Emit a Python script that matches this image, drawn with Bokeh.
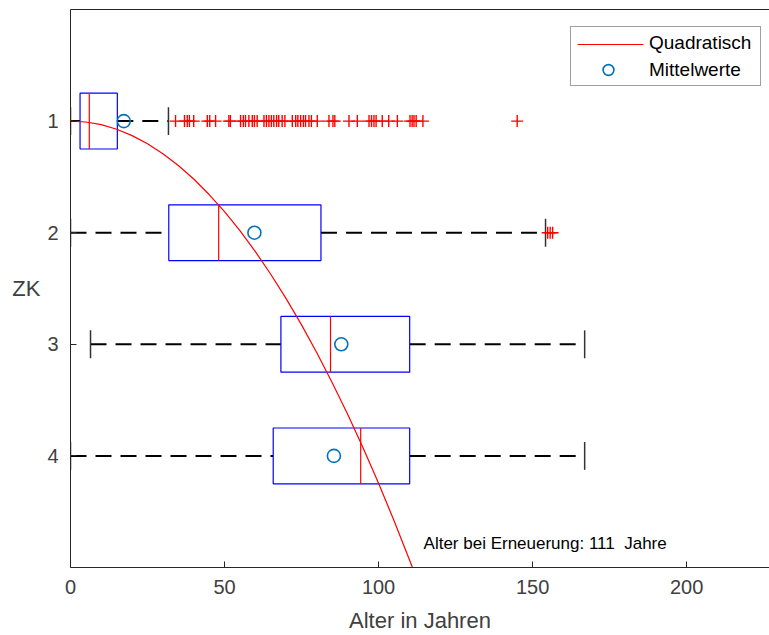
from bokeh.plotting import figure
from bokeh.models import Range1d, Label, LinearAxis, FixedTicker, Legend, LegendItem, ColumnDataSource, BoxAnnotation
from bokeh.embed import file_html
from bokeh.resources import INLINE

# ---- data ----
rows = [1, 2, 3, 4]
q1 = [3.1, 31.9, 68.3, 65.8]
medians = [6.1, 48.1, 84.4, 94.2]
q3 = [15.2, 81.3, 110.1, 110.1]
whisk_lo = [0.0, 0.0, 6.5, 0.0]
whisk_hi = [31.8, 154.2, 166.9, 166.9]
means = [17.3, 59.7, 87.9, 85.5]

outliers_row1 = [34.1, 37.0, 37.9, 38.6, 40.0, 44.4, 45.2, 47.1, 51.4, 51.9, 55.2, 56.1,
                 56.8, 57.9, 59.0, 59.7, 60.6, 62.8, 63.6, 64.4, 65.2, 66.0, 66.9, 67.6,
                 68.7, 69.6, 72.0, 73.1, 73.8, 74.7, 75.6, 76.3, 77.4, 78.2, 80.1, 83.9,
                 85.2, 85.8, 90.4, 93.1, 96.9, 97.7, 98.5, 99.2, 101.2, 103.3, 106.1,
                 110.2, 110.9, 111.5, 112.2, 114.4, 145.0]
outliers_row2 = [154.9, 155.7, 156.5]

curve_x = [0, 5, 10, 15, 20, 25, 30, 35, 40, 45, 50, 55, 60, 65, 70, 75, 80, 85, 90, 95, 100, 105, 111]
curve_y = [1.000, 1.008, 1.032, 1.073, 1.130, 1.203, 1.292, 1.398, 1.519, 1.658, 1.812, 1.982,
           2.169, 2.372, 2.591, 2.826, 3.078, 3.346, 3.630, 3.930, 4.246, 4.579, 5.000]

x_ticks = [0, 50, 100, 150, 200]
y_ticks = [1, 2, 3, 4]
renewal_age = 111

FONT = "Liberation Sans"
AX = "#262626"
BOX_HALF = 0.25
CAP_HALF = 0.125

p = figure(width=769, height=635, x_range=Range1d(0, 226.9), y_range=Range1d(5, 0),
           output_backend="svg", toolbar_location=None,
           min_border_left=70, min_border_right=0, min_border_top=9, min_border_bottom=67)
p.xgrid.visible = False
p.ygrid.visible = False
p.outline_line_color = None
p.background_fill_color = "white"
p.border_fill_color = "white"

# axes
for ax in (p.xaxis[0], p.yaxis[0]):
    ax.axis_line_color = AX
    ax.major_tick_line_color = AX
    ax.major_tick_in = 6
    ax.major_tick_out = 0
    ax.minor_tick_line_color = None
    ax.major_label_text_font = FONT
    ax.major_label_text_font_size = "20px"
    ax.major_label_text_color = "#404040"
    ax.major_label_standoff = 12
    ax.axis_label_text_font = FONT
    ax.axis_label_text_font_size = "22px"
    ax.axis_label_text_font_style = "normal"
    ax.axis_label_text_color = "#404040"

p.xaxis.ticker = FixedTicker(ticks=x_ticks)
p.yaxis.ticker = FixedTicker(ticks=y_ticks)
p.xaxis.axis_label = "Alter in Jahren"
p.xaxis.axis_label_standoff = 11
p.yaxis.axis_label = "ZK"
p.yaxis.axis_label_standoff = 4
p.yaxis.axis_label_orientation = "horizontal"

top = LinearAxis(axis_line_color=AX, major_tick_line_color=None, minor_tick_line_color=None,
                 major_label_text_font_size="0px", major_tick_in=0, major_tick_out=0,
                 minor_tick_in=0, minor_tick_out=0, ticker=FixedTicker(ticks=[]))
p.add_layout(top, "above")

# box data
src = ColumnDataSource(dict(
    row=rows, q1=q1, med=medians, q3=q3, lo=whisk_lo, hi=whisk_hi, mean=means,
    top=[r - BOX_HALF for r in rows], bot=[r + BOX_HALF for r in rows],
    ctop=[r - CAP_HALF for r in rows], cbot=[r + CAP_HALF for r in rows],
))

# whiskers (dashed)
p.segment(x0="lo", x1="q1", y0="row", y1="row", source=src, line_color="black",
          line_width=2, line_dash="16 9")
p.segment(x0="q3", x1="hi", y0="row", y1="row", source=src, line_color="black",
          line_width=2, line_dash="16 9")
# caps
p.segment(x0="lo", x1="lo", y0="ctop", y1="cbot", source=src, line_color="#333333", line_width=1.5)
p.segment(x0="hi", x1="hi", y0="ctop", y1="cbot", source=src, line_color="#333333", line_width=1.5)
# boxes
p.quad(left="q1", right="q3", top="top", bottom="bot", source=src, fill_color=None,
       line_color="blue", line_width=1.2)
# medians
p.segment(x0="med", x1="med", y0="top", y1="bot", source=src, line_color="red", line_width=1.2)

# outliers
p.scatter(x=outliers_row1, y=[rows[0]] * len(outliers_row1), marker="cross", size=12,
          line_color="red", line_width=1.4)
p.scatter(x=outliers_row2, y=[rows[1]] * len(outliers_row2), marker="cross", size=12,
          line_color="red", line_width=1.4)

# quadratic curve
curve = p.line(curve_x, curve_y, line_color="red", line_width=1.2)

# means
mean_r = p.scatter(x="mean", y="row", source=src, marker="circle", size=13,
                   fill_color=None, line_color="#0072BD", line_width=1.6)

# annotation
p.add_layout(Label(x=114.6, y=4.785, text=f"Alter bei Erneuerung: {renewal_age}\u00a0 Jahre",
                   text_font=FONT, text_font_size="17px", text_color="black",
                   text_baseline="middle", text_align="left"))

# legend line sample for "Quadratisch" (thin red bar, shows through the transparent legend)
leg_line = BoxAnnotation(left=164.6, right=186.0, top=0.3085, bottom=0.3185,
                         fill_color="red", fill_alpha=1.0, line_color=None,
                         editable=False)
p.add_layout(leg_line)

legend = Legend(items=[LegendItem(label="Quadratisch", renderers=[]),
                       LegendItem(label="Mittelwerte", renderers=[mean_r])],
                location=(500, 481), orientation="vertical",
                label_text_font=FONT, label_text_font_size="19px", label_text_color="black",
                glyph_width=70, glyph_height=27, label_height=20, label_width=109,
                label_standoff=6, padding=2, spacing=0, margin=0,
                border_line_color="#404040", border_line_width=1,
                background_fill_color="white", background_fill_alpha=0.0)
p.add_layout(legend)

open("out.html", "w").write(file_html(p, INLINE))
